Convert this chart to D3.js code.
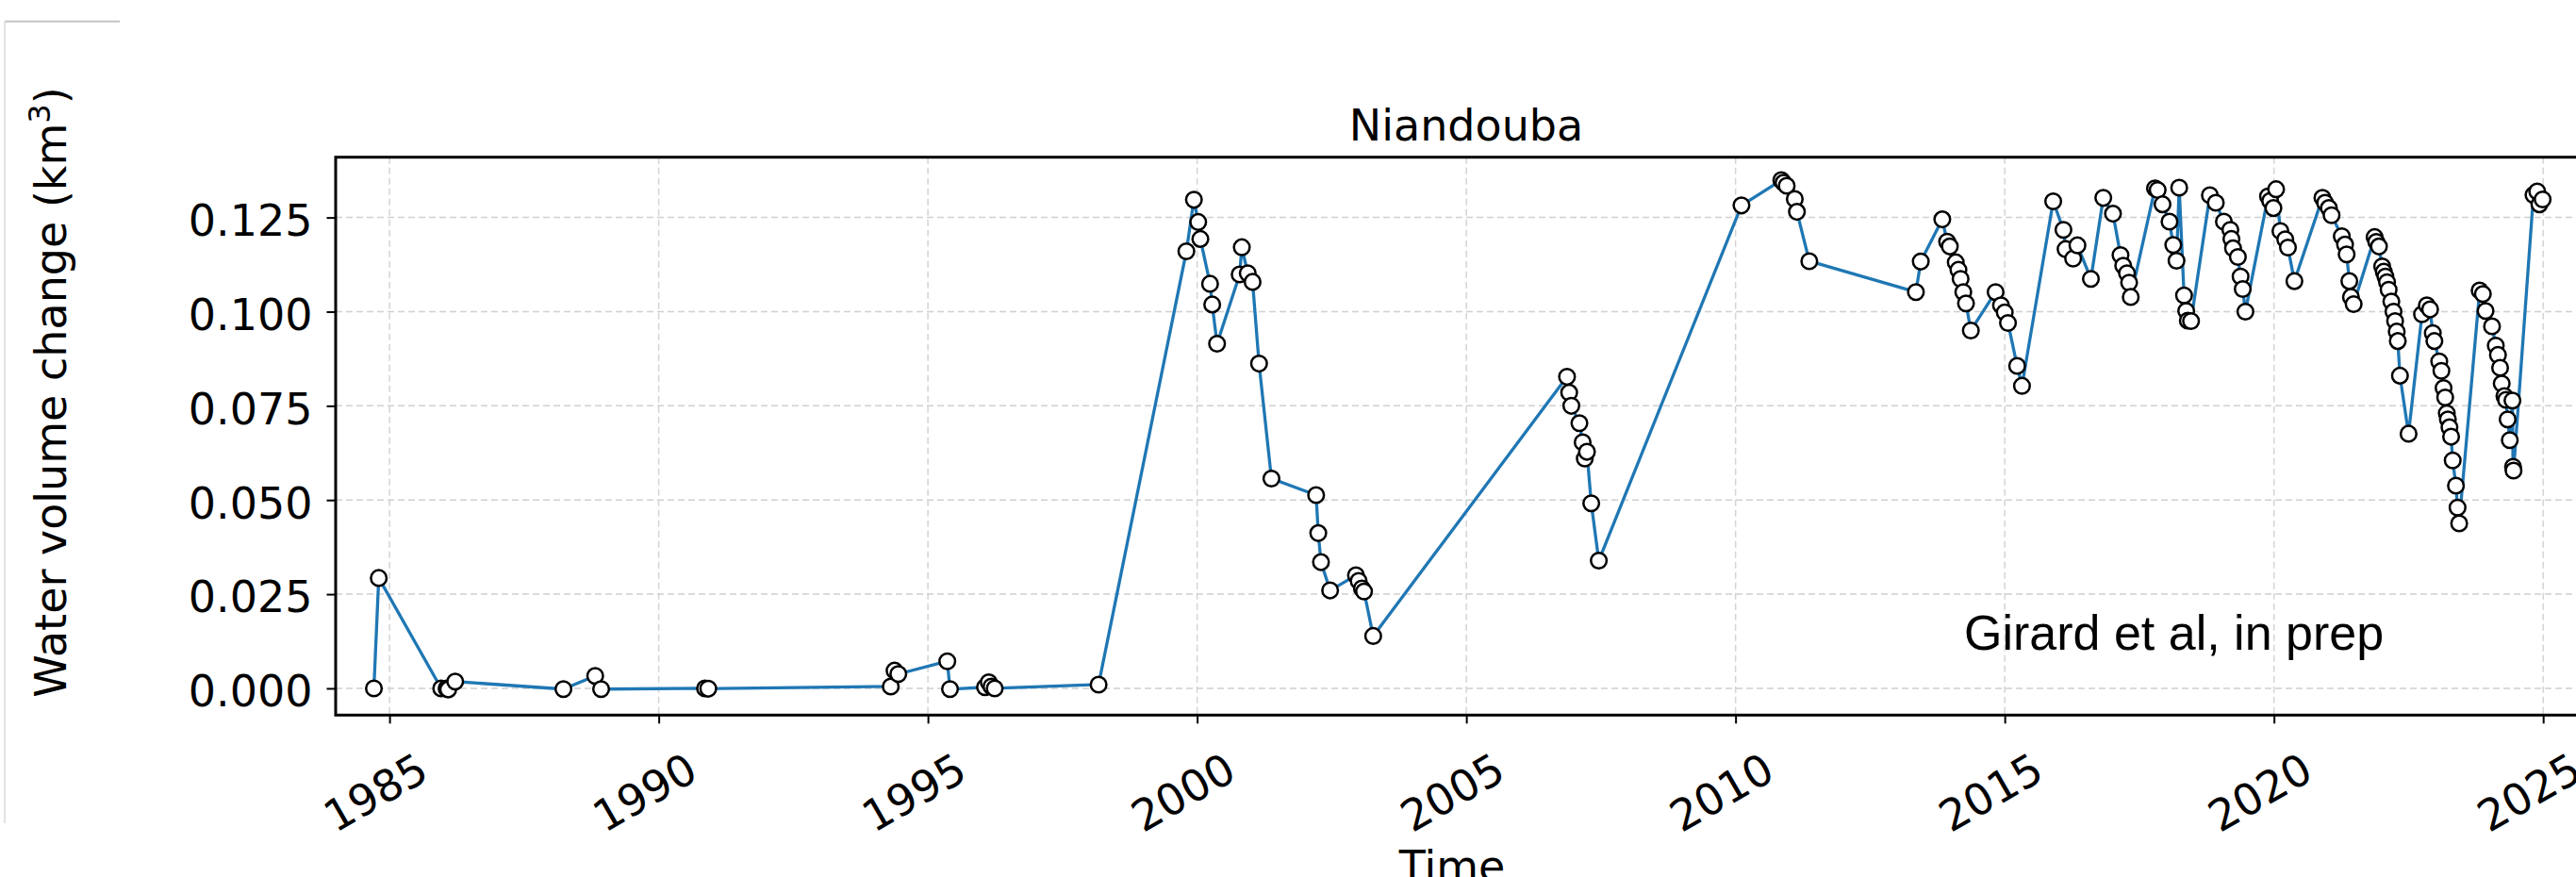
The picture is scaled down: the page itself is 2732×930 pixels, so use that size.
<!DOCTYPE html>
<html>
<head>
<meta charset="utf-8">
<script src="https://cdn.jsdelivr.net/npm/d3@7"></script>
<style>
  html, body { margin: 0; padding: 0; background: #fff; }
  svg { display: block; }
</style>
</head>
<body>
<svg id="chart" width="2732" height="930"></svg>
<script>
// ---- data (decimal year, water volume change km3) ----
const years = [
  1984.71, 1984.80, 1985.96, 1986.06, 1986.09, 1986.22, 1988.23, 1988.82, 1988.93,
  1990.86, 1990.92, 1994.31, 1994.38, 1994.45, 1995.36, 1995.41, 1996.06, 1996.13,
  1996.18, 1996.24, 1998.17,
  1999.80, 1999.94, 2000.02, 2000.06, 2000.24, 2000.28, 2000.37, 2000.79, 2000.83,
  2000.94, 2001.03, 2001.15, 2001.38, 2002.21, 2002.25, 2002.30, 2002.47, 2002.95,
  2003.00, 2003.06, 2003.10, 2003.27,
  2006.87, 2006.91, 2006.95, 2007.10, 2007.16, 2007.20, 2007.24, 2007.32, 2007.46,
  2010.11, 2010.85, 2010.89, 2010.95, 2011.10, 2011.14, 2011.37,
  2013.35, 2013.44, 2013.84, 2013.93, 2013.98, 2014.09, 2014.14, 2014.18, 2014.23,
  2014.28, 2014.37, 2014.83, 2014.93, 2015.00, 2015.06, 2015.23, 2015.32,
  2015.90, 2016.09, 2016.13, 2016.27, 2016.35, 2016.60, 2016.83, 2017.01, 2017.15,
  2017.20, 2017.27, 2017.31, 2017.34, 2017.79, 2017.84, 2017.93, 2018.06, 2018.13,
  2018.19, 2018.24, 2018.33, 2018.37, 2018.40, 2018.46,
  2018.81, 2018.92, 2019.07, 2019.19, 2019.21, 2019.24, 2019.33, 2019.38, 2019.42,
  2019.47, 2019.89, 2019.93, 2019.99, 2020.04, 2020.12, 2020.21, 2020.26, 2020.38,
  2020.90, 2020.95, 2021.02, 2021.07, 2021.26, 2021.32, 2021.35, 2021.40, 2021.43,
  2021.48, 2021.87, 2021.90, 2021.95, 2022.01, 2022.04, 2022.07, 2022.10, 2022.13,
  2022.18, 2022.22, 2022.25, 2022.28, 2022.30, 2022.34, 2022.50,
  2022.75, 2022.84, 2022.90, 2022.95, 2022.98, 2023.07, 2023.11, 2023.15, 2023.18,
  2023.21, 2023.23, 2023.26, 2023.29, 2023.32, 2023.38, 2023.41, 2023.44,
  2023.82, 2023.88, 2023.93, 2024.05, 2024.12, 2024.16, 2024.20, 2024.23, 2024.28,
  2024.31, 2024.34, 2024.38, 2024.43, 2024.44, 2024.45,
  2024.82, 2024.89, 2024.93, 2024.99
];
const volumes = [
  0.0000, 0.0293, 0.0000, 0.0000, -0.0003, 0.0018, -0.0002, 0.0033, -0.0002,
  0.0000, -0.0001, 0.0005, 0.0047, 0.0038, 0.0072, -0.0002, 0.0003, 0.0016,
  0.0005, 0.0000, 0.0010,
  0.1160, 0.1297, 0.1238, 0.1193, 0.1074, 0.1019, 0.0915, 0.1099, 0.1171,
  0.1102, 0.1079, 0.0862, 0.0557, 0.0513, 0.0412, 0.0335, 0.0260, 0.0300,
  0.0285, 0.0265, 0.0257, 0.0139,
  0.0827, 0.0785, 0.0750, 0.0704, 0.0653, 0.0610, 0.0628, 0.0491, 0.0339,
  0.1282, 0.1349, 0.1342, 0.1334, 0.1299, 0.1265, 0.1134,
  0.1052, 0.1133, 0.1245, 0.1186, 0.1173, 0.1131, 0.1111, 0.1087, 0.1052,
  0.1022, 0.0950, 0.1052, 0.1017, 0.0998, 0.0970, 0.0856, 0.0803,
  0.1293, 0.1217, 0.1166, 0.1141, 0.1176, 0.1087, 0.1302, 0.1260, 0.1150,
  0.1122, 0.1102, 0.1077, 0.1039, 0.1327, 0.1323, 0.1285, 0.1239, 0.1177,
  0.1135, 0.1329, 0.1043, 0.1002, 0.0976, 0.0975,
  0.1309, 0.1289, 0.1239, 0.1217, 0.1193, 0.1168, 0.1145, 0.1093, 0.1060,
  0.1000, 0.1306, 0.1294, 0.1275, 0.1325, 0.1214, 0.1192, 0.1170, 0.1081,
  0.1302, 0.1289, 0.1275, 0.1256, 0.1200, 0.1178, 0.1152, 0.1081, 0.1039,
  0.1020, 0.1198, 0.1185, 0.1173, 0.1120, 0.1106, 0.1093, 0.1078, 0.1058,
  0.1027, 0.1000, 0.0975, 0.0947, 0.0922, 0.0830, 0.0676,
  0.0993, 0.1017, 0.1006, 0.0943, 0.0922, 0.0868, 0.0843, 0.0797, 0.0772,
  0.0730, 0.0714, 0.0693, 0.0668, 0.0605, 0.0538, 0.0480, 0.0438,
  0.1056, 0.1047, 0.1002, 0.0961, 0.0910, 0.0885, 0.0851, 0.0809, 0.0776,
  0.0766, 0.0714, 0.0659, 0.0764, 0.0588, 0.0578,
  0.1310, 0.1319, 0.1285, 0.1298
];
const xTickValues = [1985, 1990, 1995, 2000, 2005, 2010, 2015, 2020, 2025];
const yTickValues = [0.000, 0.025, 0.050, 0.075, 0.100, 0.125];
const chartTitle = "Niandouba";
const xLabel = "Time";
const yLabelMain = "Water volume change (km";
const yLabelSup = "3";
const yLabelEnd = ")";
const noteText = "Girard et al, in prep";

// ---- layout ----
const plotLeft = 356, plotRight = 2740, plotTop = 166.7, plotBottom = 758.3;
const svg = d3.select("#chart");
const FONT = "'DejaVu Sans', sans-serif";

const x = d3.scaleLinear().domain([1984.0, 2025.75]).range([plotLeft, plotRight]);
const y = d3.scaleLinear().domain([-0.0071, 0.1410]).range([plotBottom, plotTop]);

// outer light frame lines (screenshot border)
svg.append("line").attr("x1", 5).attr("y1", 22.7).attr("x2", 127).attr("y2", 22.7)
  .attr("stroke", "#c4c4c4").attr("stroke-width", 2);
svg.append("line").attr("x1", 5).attr("y1", 22.7).attr("x2", 5).attr("y2", 873)
  .attr("stroke", "#dadada").attr("stroke-width", 1.5);

// grid
const grid = svg.append("g");
grid.selectAll("line.gx").data(xTickValues).join("line").attr("class", "gx")
  .attr("x1", d => x(d)).attr("x2", d => x(d))
  .attr("y1", plotTop).attr("y2", plotBottom)
  .attr("stroke", "#d4d4d4").attr("stroke-width", 1.5).attr("stroke-dasharray", "7,4");
grid.selectAll("line.gy").data(yTickValues).join("line").attr("class", "gy")
  .attr("x1", plotLeft).attr("x2", plotRight)
  .attr("y1", d => y(d)).attr("y2", d => y(d))
  .attr("stroke", "#d0d0d0").attr("stroke-width", 1.5).attr("stroke-dasharray", "7,4");

// data line + markers
const pts = years.map((yr, i) => ({ t: yr, v: volumes[i] }));
svg.append("path").datum(pts)
  .attr("fill", "none").attr("stroke", "#1f77b4").attr("stroke-width", 3.3)
  .attr("stroke-linejoin", "round")
  .attr("d", d3.line().x(d => x(d.t)).y(d => y(d.v)));
svg.append("g").selectAll("circle").data(pts).join("circle")
  .attr("cx", d => x(d.t)).attr("cy", d => y(d.v)).attr("r", 8.3)
  .attr("fill", "#fff").attr("stroke", "#000").attr("stroke-width", 2.5);

// frame
svg.append("rect").attr("x", plotLeft).attr("y", plotTop)
  .attr("width", plotRight - plotLeft).attr("height", plotBottom - plotTop)
  .attr("fill", "none").attr("stroke", "#000").attr("stroke-width", 3);

// y axis
const gY = svg.append("g").attr("transform", `translate(${plotLeft},0)`)
  .call(d3.axisLeft(y).tickValues(yTickValues).tickFormat(d3.format(".3f"))
    .tickSize(9.5).tickPadding(15));
gY.select(".domain").remove();
gY.selectAll("line").attr("stroke", "#000").attr("stroke-width", 2);
gY.selectAll("text").attr("font-family", FONT).attr("font-size", 46)
  .attr("fill", "#000").attr("dy", "0.41em");

// x axis
const gX = svg.append("g").attr("transform", `translate(0,${plotBottom})`)
  .call(d3.axisBottom(x).tickValues(xTickValues).tickFormat(d3.format("d")).tickSize(9));
gX.select(".domain").remove();
gX.selectAll("line").attr("stroke", "#000").attr("stroke-width", 2);
gX.selectAll("text")
  .attr("font-family", FONT).attr("font-size", 46).attr("fill", "#000")
  .attr("text-anchor", "middle")
  .attr("x", -15.5).attr("y", 81.7).attr("dy", "0.36em")
  .attr("transform", "rotate(-30,-15.5,81.7)");

// title
svg.append("text").attr("x", 1555).attr("y", 149).attr("text-anchor", "middle")
  .attr("font-family", FONT).attr("font-size", 46).attr("fill", "#000").text(chartTitle);

// x label
svg.append("text").attr("x", 1540).attr("y", 935).attr("text-anchor", "middle")
  .attr("font-family", FONT).attr("font-size", 46).attr("fill", "#000").text(xLabel);

// y label
const yl = svg.append("text").attr("transform", "translate(70,416) rotate(-90)")
  .attr("text-anchor", "middle").attr("font-family", FONT).attr("font-size", 46).attr("fill", "#000");
yl.append("tspan").text(yLabelMain);
yl.append("tspan").attr("font-size", 32).attr("dy", -17).text(yLabelSup);
yl.append("tspan").attr("dy", 17).text(yLabelEnd);

// annotation
svg.append("text").attr("x", 2083).attr("y", 689)
  .attr("font-family", "'Liberation Sans', Arial, sans-serif").attr("font-size", 52)
  .attr("fill", "#000").text(noteText);
</script>
</body>
</html>
